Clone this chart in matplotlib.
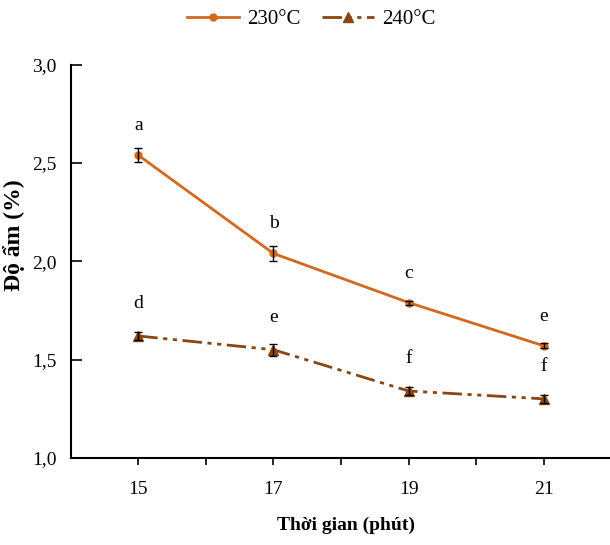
import matplotlib.pyplot as plt

plt.rcParams['font.family'] = ['Liberation Serif', 'DejaVu Serif']

time = [15, 17, 19, 21]
m230 = [2.54, 2.04, 1.79, 1.57]
e230 = [0.035, 0.04, 0.01, 0.012]
m240 = [1.62, 1.55, 1.34, 1.30]
e240 = [0.02, 0.03, 0.02, 0.02]
lab230 = ['a', 'b', 'c', 'e']
lab240 = ['d', 'e', 'f', 'f']

c230 = '#D2691E'
c240 = '#8B4513'

fig = plt.figure(figsize=(6.1, 5.45), dpi=100)
ax = fig.add_axes([0.116, 0.160, 0.884, 0.721])

l1, = ax.plot(time, m230, color=c230, marker='o', ms=5, lw=2, label='230°C')
ax.errorbar(time, m230, yerr=e230, fmt='none', ecolor='black',
            elinewidth=1, capsize=3)
l2, = ax.plot(time, m240, color=c240, marker='^', ms=7, lw=2,
              dashes=(7, 2, 1.5, 2, 1.5, 2), label='240°C')
ax.errorbar(time, m240, yerr=e240, fmt='none', ecolor='black',
            elinewidth=1, capsize=3)

for x, y, t in zip(time, m230, lab230):
    ax.annotate(t, (x, y), xytext=(0, 18), textcoords='offset points',
                ha='center', fontsize=14)
for x, y, t in zip(time, m240, lab240):
    ax.annotate(t, (x, y), xytext=(0, 20), textcoords='offset points',
                ha='center', fontsize=14)

ax.set_xlim(14, 21.98)
ax.set_ylim(1.0, 3.0)
ax.set_xticks([15, 16, 17, 18, 19, 20, 21])
ax.set_xticklabels(['15', '', '17', '', '19', '', '21'])
ax.set_yticks([1.0, 1.5, 2.0, 2.5, 3.0])
ax.set_yticklabels(['1,0', '1,5', '2,0', '2,5', '3,0'])
ax.tick_params(labelsize=14, width=1.2)
ax.tick_params(axis='y', direction='in', length=8, pad=10)
ax.tick_params(axis='x', direction='out', length=5, pad=12)
ax.spines['top'].set_visible(False)
ax.spines['right'].set_visible(False)
ax.spines['left'].set_linewidth(1.5)
ax.spines['bottom'].set_linewidth(1.5)

ax.set_xlabel('Thời gian (phút)', fontsize=14, fontweight='bold')
ax.set_ylabel('Độ ẩm (%)', fontsize=17, fontweight='bold')
ax.xaxis.set_label_coords(0.51, -0.15)
ax.yaxis.set_label_coords(-0.085, 0.567)

fig.legend(handles=[l1, l2], loc='center', bbox_to_anchor=(0.51, 0.965),
           ncol=2, frameon=False, fontsize=15, handlelength=2.5,
           columnspacing=1.0, handletextpad=0.4)

fig.savefig('out.png', dpi=100)
